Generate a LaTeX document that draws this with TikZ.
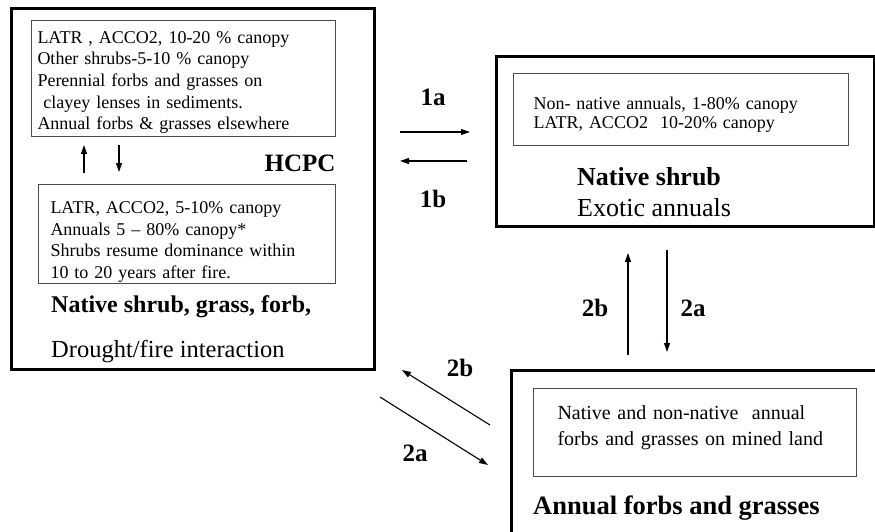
\documentclass[tikz,border=0pt]{standalone}
\usepackage{fontspec}
\setmainfont{Liberation Serif}
\usetikzlibrary{positioning,arrows.meta}

\begin{document}
\begin{tikzpicture}[x=1pt,y=-1pt,
  outer/.style={draw,line width=3pt,anchor=north west,inner sep=0pt},
  inbox/.style={draw=black!70,line width=1pt,anchor=north west,inner sep=0pt},
  ptext/.style={inner sep=0pt,align=left,font=\fontsize{18}{21.6}\selectfont},
  title/.style={anchor=west,inner sep=0pt,font=\fontsize{24}{28}\selectfont\bfseries},
  sub/.style={anchor=west,inner sep=0pt,font=\fontsize{24.5}{28}\selectfont},
  lbl/.style={inner sep=0pt,font=\fontsize{25}{28}\selectfont\bfseries},
  ar/.style={-{Triangle[length=9pt,width=6pt]},line width=1.1pt}]
\useasboundingbox (0,0) rectangle (875,532);
\clip (0,0) rectangle (875,532);
% state boxes
\node[outer,minimum width=363,minimum height=361] (hcpcbox) at (10,7) {};
\node[outer,minimum width=378,minimum height=170] (shrubbox) at (495,55) {};
\node[outer,minimum width=375,minimum height=176] (annbox) at (510,369) {};
% community phases
\node[inbox,minimum width=304,minimum height=116] (hcpcA) at (31,20) {};
\node[inbox,minimum width=297,minimum height=99] (hcpcB) at (38,184) {};
\node[inbox,minimum width=335,minimum height=72] (shrubin) at (513,73) {};
\node[inbox,minimum width=323,minimum height=88] (annin) at (533,388) {};
\node[ptext,text width=292] (hcpcAtext) at ([yshift=-4pt]hcpcA.center)
  {LATR , ACCO2, 10-20 \% canopy\\Other shrubs-5-10 \% canopy\\Perennial forbs and grasses on\\
  \ clayey lenses in sediments.\\Annual forbs \& grasses elsewhere};
\node[ptext,text width=273] (hcpcBtext) at ([yshift=-8pt]hcpcB.center)
  {LATR, ACCO2, 5-10\% canopy\\Annuals 5 -- 80\% canopy*\\Shrubs resume dominance within\\10 to 20 years after fire.};
\node[ptext,text width=295,font=\fontsize{18}{19}\selectfont] (shrubtext) at ([yshift=-5pt]shrubin.center)
  {Non- native annuals, 1-80\% canopy\\LATR, ACCO2\ \ 10-20\% canopy};
\node[ptext,text width=275,font=\fontsize{20}{26}\selectfont] (anntext) at ([yshift=5pt]annin.center)
  {Native and non-native\ \ annual\\forbs and grasses on mined land};
% state names
\node[lbl] (hcpc) at (300,163) {HCPC};
\node[title] (hcpcname) at (51,307) {Native shrub, grass, forb,};
\node[sub] (hcpcsub) at (51,352) {Drought/fire interaction};
\node[title,font=\fontsize{26}{30}\selectfont\bfseries] (shrubname) at (577,177) {Native shrub};
\node[sub,font=\fontsize{26}{30}\selectfont] (shrubsub) at (577,208) {Exotic annuals};
\node[title,font=\fontsize{26.5}{30}\selectfont\bfseries] (annname) at (533,508) {Annual forbs and grasses};
% arrow ends
\coordinate (pu1) at (84,173); \coordinate (pu2) at (84,145);
\coordinate (pd1) at (119,145); \coordinate (pd2) at (119,172);
\coordinate (t1a1) at (400,132); \coordinate (t1a2) at (470,132);
\coordinate (t1b1) at (467,161); \coordinate (t1b2) at (400,161);
\coordinate (v2b1) at (628,355); \coordinate (v2b2) at (628,253);
\coordinate (v2a1) at (667,250); \coordinate (v2a2) at (667,352);
\coordinate (d2b1) at (490,425); \coordinate (d2b2) at (402,370);
\coordinate (d2a1) at (380,397); \coordinate (d2a2) at (488,465);
\foreach \a/\b in {pu1/pu2,pd1/pd2,t1a1/t1a2,t1b1/t1b2,v2b1/v2b2,v2a1/v2a2,d2b1/d2b2,d2a1/d2a2}
  \draw[ar] (\a)--(\b);
% transition labels
\node[lbl] (l1a) at (433,97) {1a};
\node[lbl] (l1b) at (433,199) {1b};
\node[lbl] (l2bv) at (595,308) {2b};
\node[lbl] (l2av) at (693,308) {2a};
\node[lbl] (l2bd) at (460,368) {2b};
\node[lbl] (l2ad) at (415,453) {2a};
\end{tikzpicture}
\end{document}
